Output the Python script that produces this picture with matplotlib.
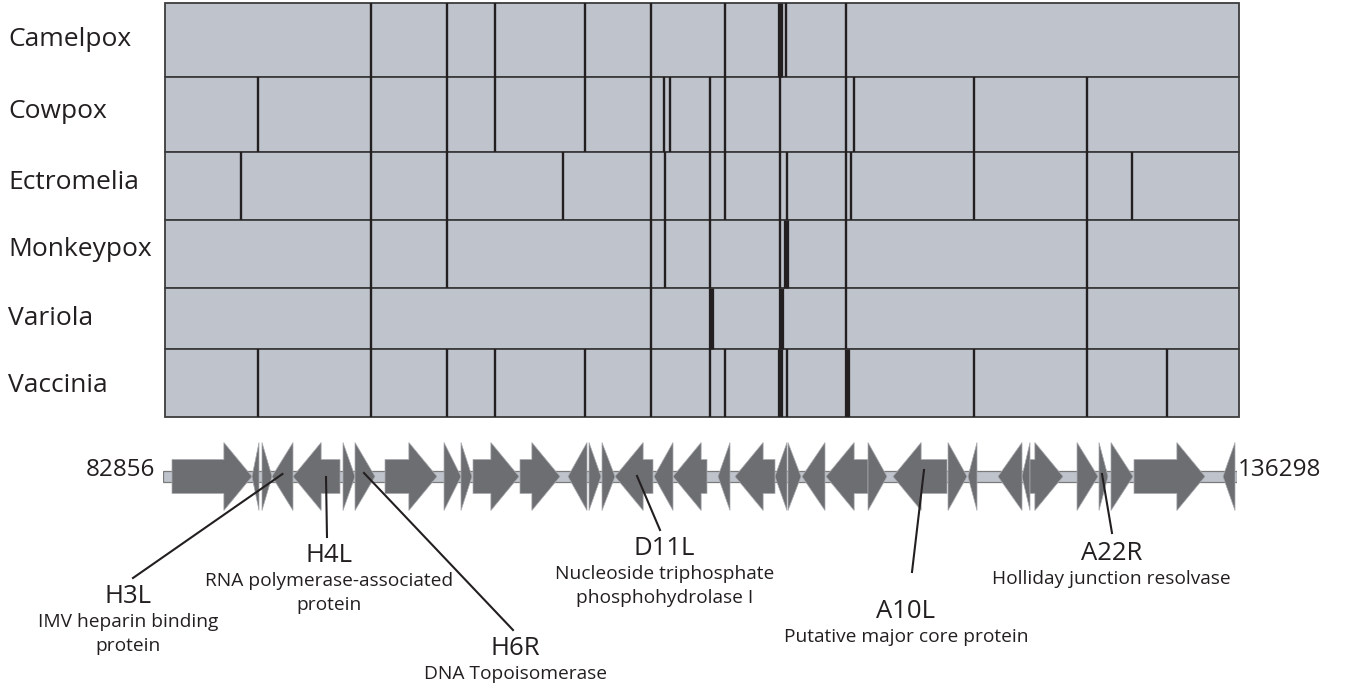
import matplotlib
matplotlib.use('Agg')
import matplotlib.pyplot as plt
from matplotlib.patches import Rectangle, Polygon

plt.rcParams['font.family'] = ['Open Sans', 'DejaVu Sans']

# ---------------- data ----------------
GENOME_START = 82856
GENOME_END = 136298

genomes = ['Camelpox', 'Cowpox', 'Ectromelia', 'Monkeypox', 'Variola', 'Vaccinia']

camelpox_breaks = [93082, 96888, 99277, 103755, 107039, 110722, 113757, 116723]
camelpox_thick = [113458]
cowpox_breaks = [87484, 93082, 96888, 99277, 103755, 107039, 107711, 107960, 109951,
                 110722, 113458, 116723, 117141, 123097, 128720]
cowpox_thick = []
ectromelia_breaks = [86623, 93082, 96888, 102685, 107039, 107720, 109951, 110722, 113458,
                     113807, 116723, 116991, 123097, 128720, 130954]
ectromelia_thick = []
monkeypox_breaks = [93082, 96888, 107039, 107715, 109951, 113458, 116723, 128720]
monkeypox_thick = [113757]
variola_breaks = [93082, 107039, 116723, 128720]
variola_thick = [110025, 113508]
vaccinia_breaks = [87484, 93082, 96888, 99277, 103755, 107039, 109951, 110722, 113807,
                   123097, 128720, 132701]
vaccinia_thick = [113458, 116778]

breaks = [camelpox_breaks, cowpox_breaks, ectromelia_breaks,
          monkeypox_breaks, variola_breaks, vaccinia_breaks]
thick = [camelpox_thick, cowpox_thick, ectromelia_thick,
         monkeypox_thick, variola_thick, vaccinia_thick]

gene_start = [83304, 87285, 87782, 88280, 89325, 91813, 92410, 93903, 96839, 97684,
              98282, 100620, 103009, 104054, 104701, 105348, 107288, 108234, 110473, 111319,
              113309, 113956, 114653, 115847, 117937, 119181, 121918, 122913, 124406, 125600,
              125998, 128337, 129431, 130028, 131173, 135602]
gene_end = [87285, 87633, 88280, 89325, 91664, 92410, 93405, 96490, 97684, 98232,
            100571, 102611, 103954, 104651, 105348, 107238, 108234, 109925, 111070, 113309,
            113906, 114603, 115797, 117937, 118882, 121868, 122863, 123361, 125600, 125998,
            127640, 129382, 129879, 131123, 134706, 136199]
gene_strand = ['+', '-', '+', '-', '-', '+', '+', '+', '+', '+',
               '+', '+', '-', '+', '+', '-', '-', '-', '-', '-',
               '-', '+', '-', '-', '+', '-', '+', '-', '-', '-',
               '+', '+', '+', '+', '+', '-']

ann_names = ['H3L', 'H4L', 'H6R', 'D11L', 'A10L', 'A22R']
ann_desc = ['IMV heparin binding\nprotein', 'RNA polymerase-associated\nprotein',
            'DNA Topoisomerase', 'Nucleoside triphosphate\nphosphohydrolase I',
            'Putative major core protein', 'Holliday junction resolvase']
ann_gene_pos = [88800, 90967, 92858, 106442, 120723, 129581]
ann_label_pos = [81114, 91116, 100372, 107800, 119830, 130050]

# ---------------- layout ----------------
W, H = 1345, 691
fig = plt.figure(figsize=(W / 100, H / 100), dpi=100)

FILL = '#bfc4cc'
DARK = '#231f20'
ARROW = '#6d6e71'

row_edges = [3, 77, 152, 220, 288, 349, 417]
axt = fig.add_axes([165 / W, 1 - 417 / H, (1239 - 165) / W, (417 - 3) / H])
axt.set_xlim(GENOME_START, GENOME_END)
axt.set_ylim(417, 3)
axt.axis('off')
label_y = [40, 111, 182, 250, 319, 386]
for i, name in enumerate(genomes):
    y0, y1 = row_edges[i], row_edges[i + 1]
    axt.add_patch(Rectangle((GENOME_START, y0), GENOME_END - GENOME_START, y1 - y0,
                            fc=FILL, ec='#3c3c3c', lw=1.3, clip_on=False))
    axt.vlines(breaks[i], y0, y1, color=DARK, lw=1.7)
    axt.vlines(thick[i], y0, y1, color=DARK, lw=3.8)
    fig.text(8 / W, 1 - label_y[i] / H, name, ha='left', va='center', fontsize=19,
             color=DARK)

# gene track
axb = fig.add_axes([163 / W, 0, (1237 - 163) / W, (H - 430) / H])
axb.set_xlim(GENOME_START, GENOME_END)
axb.set_ylim(H, 430)
axb.axis('off')

yc = 476.5
bb_h = 5.5
body_h = 17
head_h = 34
head_len = 1400

axb.add_patch(Rectangle((GENOME_START, yc - bb_h), GENOME_END - GENOME_START, 2 * bb_h,
                        fc=FILL, ec='#7a7a7a', lw=0.9, zorder=1))

for s, e, st in zip(gene_start, gene_end, gene_strand):
    L = e - s
    hl = min(head_len, L)
    if st == '+':
        tip, base, back = e, e - hl, s
    else:
        tip, base, back = s, s + hl, e
    if hl >= L:
        pts = [(back, yc - head_h), (tip, yc), (back, yc + head_h)]
    else:
        pts = [(back, yc - body_h), (base, yc - body_h), (base, yc - head_h), (tip, yc),
               (base, yc + head_h), (base, yc + body_h), (back, yc + body_h)]
    axb.add_patch(Polygon(pts, closed=True, fc=ARROW, ec='#a8aaae', lw=0.5, zorder=2))

# annotations
name_y = [596, 555, 648, 548, 611, 553]
line_end_y = [578, 537, 630, 530, 572, 533]
line_end_x = [81363, 91016, 100272, 107587, 120126, 130078]
line_start_y = [474, 477, 473, 476, 470, 474]
for i in range(len(ann_names)):
    axb.plot([ann_gene_pos[i], line_end_x[i]], [line_start_y[i], line_end_y[i]],
             color=DARK, lw=1.5, clip_on=False, zorder=3)
    axb.text(ann_label_pos[i], name_y[i], ann_names[i], ha='center', va='center',
             fontsize=18.5, color=DARK)
    axb.text(ann_label_pos[i], name_y[i] + 17, ann_desc[i], ha='center', va='top',
             fontsize=13.8, color=DARK, linespacing=1.4)

fig.text(155 / W, 1 - 470 / H, '82856', ha='right', va='center', fontsize=17.5, color=DARK)
fig.text(1238 / W, 1 - 470 / H, '136298', ha='left', va='center', fontsize=17.5, color=DARK)

fig.savefig('out.png', dpi=100, facecolor='white')
